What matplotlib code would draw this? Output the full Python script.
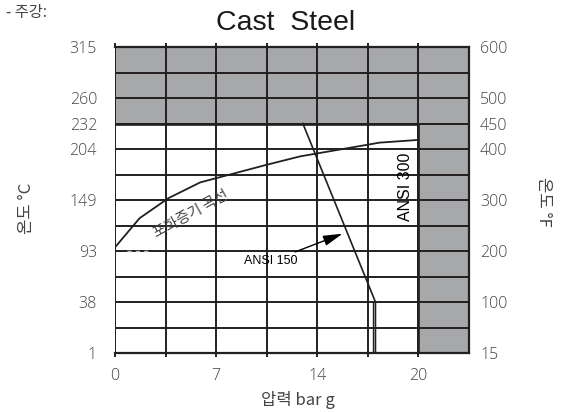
import numpy as np
import matplotlib
matplotlib.use("Agg")
import matplotlib.pyplot as plt

plt.rcParams['font.family'] = ['Noto Sans CJK KR', 'DejaVu Sans']

# axis tick values (both axes are spaced unevenly in the original chart)
x_ticks = [0, 7, 14, 20]
x_max = 23
y_ticks_c = [1, 38, 93, 149, 204, 232, 260, 315]
y_ticks_f = [15, 100, 200, 300, 400, 450, 500, 600]

# saturated steam curve (bar g, deg C)
sat_bar = [0, 1.7, 3.7, 5.9, 10.5, 12.8, 17.7, 20]
sat_temp = [97, 129, 151, 168, 187, 196, 211, 214]

# ANSI 150 limit line
ansi150_bar = [13, 17.45, 17.45]
ansi150_temp = [232, 38, 2]
ansi150b_bar = [17.28, 17.28]
ansi150b_temp = [38, 2]

# limits of the usable region
lim_temp = 232
lim_bar = 20

# piecewise scales
x_pos = [0, 2, 4, 6, 7]
x_val = x_ticks + [x_max]
y_pos = [0, 2, 4, 6, 8, 9, 10, 12]


def fx(v):
    return np.interp(v, x_val, x_pos)


def ix(p):
    return np.interp(p, x_pos, x_val)


def fy(v):
    return np.interp(v, y_ticks_c, y_pos)


def iy(p):
    return np.interp(p, y_pos, y_ticks_c)


gray = '#a7a8aa'
dark = '#231f20'
txt = '#444444'
num_font = dict(family='Open Sans', weight='light', size=11.5, color=txt)

fig = plt.figure(figsize=(5.69, 4.12), dpi=100)
ax = fig.add_axes([115/569, 59/412, 354/569, 306/412])
ax.set_xscale('function', functions=(fx, ix))
ax.set_yscale('function', functions=(fy, iy))
ax.set_xlim(0, x_max)
ax.set_ylim(y_ticks_c[0], y_ticks_c[-1])

ax.axhspan(lim_temp, y_ticks_c[-1], color=gray, lw=0, zorder=0.2)
ax.axvspan(lim_bar, x_max, color=gray, lw=0, zorder=0.2)

ax.set_xticks(x_ticks)
ax.set_xticklabels([str(v) for v in x_ticks], fontdict=num_font)
ax.set_xticks(ix([1, 3, 5]), minor=True)
ax.set_yticks(y_ticks_c)
ax.set_yticklabels([str(v) for v in y_ticks_c], fontdict=num_font)
ax.set_yticks(iy([1, 3, 5, 7, 11]), minor=True)
ax.grid(True, which='both', color=dark, lw=1.4)
ax.set_axisbelow(False)

ax.tick_params(axis='x', which='both', direction='out', length=3, width=1.4,
               color=dark, top=True, pad=8)
ax.tick_params(axis='y', which='both', length=0, pad=13)
for s in ['top', 'right', 'bottom']:
    ax.spines[s].set_color(dark)
    ax.spines[s].set_linewidth(1.6)
ax.spines['left'].set_color('#777777')
ax.spines['left'].set_linewidth(0.7)

ax2 = ax.twinx()
ax2.set_yscale('function', functions=(fy, iy))
ax2.set_ylim(ax.get_ylim())
ax2.set_yticks(y_ticks_c)
ax2.set_yticklabels([str(v) for v in y_ticks_f], fontdict=num_font)
ax2.tick_params(axis='y', length=0, pad=8)
for s in ax2.spines.values():
    s.set_visible(False)

# boundary of white region
ax.plot([0, lim_bar, lim_bar], [lim_temp, lim_temp, y_ticks_c[0]],
        color=dark, lw=1.9, zorder=3)

ax.plot(sat_bar, sat_temp, color=dark, lw=1.3, zorder=4)
ax.plot([0.8, 2.4], [93, 93], color='#bbbbbb', lw=1, ls=(0, (3, 3)), zorder=4)
ax.plot(ansi150_bar, ansi150_temp, color=dark, lw=1.2, zorder=4)
ax.plot(ansi150b_bar, ansi150b_temp, color=dark, lw=1.0, zorder=4)

ax.text(5.3, 133, '포화증기 곡선', rotation=29, ha='center', va='center',
        fontsize=10.5, color=txt, zorder=5)
ax.text(19.25, 163, 'ANSI 300', rotation=90, ha='center', va='center',
        fontsize=11.5, family='Liberation Sans', color='black', zorder=5)
ax.annotate('ANSI 150', xy=(15.5, 112), xytext=(12.65, 82),
            ha='right', va='center', fontsize=9, family='Liberation Sans',
            color='black', zorder=5,
            arrowprops=dict(arrowstyle='-|>,head_length=1.3,head_width=0.35',
                            color='black', lw=1, shrinkA=1, shrinkB=0))

fig.text(286/569, 1 - 23/412, 'Cast  Steel', ha='center', va='center',
         fontsize=20.5, family='Liberation Sans', color='#1a1a1a')
fig.text(6/569, 1 - 12/412, '- 주강:', ha='left', va='center',
         fontsize=11, color=txt)
fig.text(298/569, 1 - 400/412, '압력 bar g', ha='center', va='center',
         fontsize=12, color=txt)
fig.text(26/569, 1 - 208/412, '온도 °C', ha='center', va='center',
         rotation=90, fontsize=12, color=txt)
fig.text(544/569, 1 - 202/412, '온도 °F', ha='center', va='center',
         rotation=270, fontsize=12, color=txt)

fig.savefig('out.png', dpi=100)
